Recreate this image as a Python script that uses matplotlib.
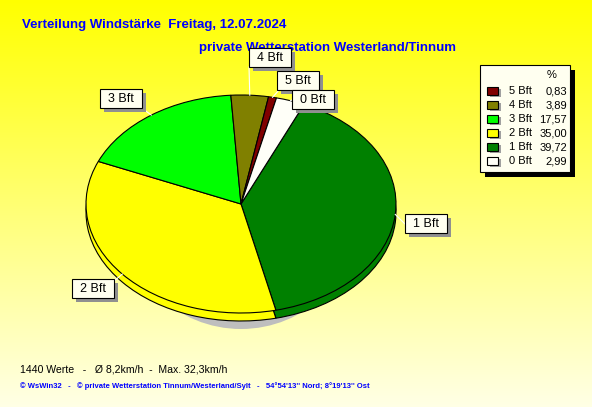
import numpy as np
import matplotlib.pyplot as plt
from matplotlib.patches import Rectangle, Ellipse

# data (clockwise order starting from the white/green boundary)
labels = ['1 Bft', '2 Bft', '3 Bft', '4 Bft', '5 Bft', '0 Bft']
values = [39.72, 35.00, 17.57, 3.89, 0.83, 2.99]
colors = ['#008000', '#FFFF00', '#00FF00', '#808000', '#800000', '#FFFFF8']

legend_labels = ['5 Bft', '4 Bft', '3 Bft', '2 Bft', '1 Bft', '0 Bft']
legend_values = ['0,83', '3,89', '17,57', '35,00', '39,72', '2,99']
legend_colors = ['#800000', '#808000', '#00FF00', '#FFFF00', '#008000', '#FFFFF8']

title = 'Verteilung Windstärke  Freitag, 12.07.2024'
subtitle = 'private Wetterstation Westerland/Tinnum'
info = '1440 Werte   -   Ø 8,2km/h  -  Max. 32,3km/h'
footer = "© WsWin32   -   © private Wetterstation Tinnum/Westerland/Sylt   -   54°54'13'' Nord; 8°19'13'' Ost"

# label box positions (pixel, top-left) for each wedge
box_pos = {'1 Bft': (405, 214), '2 Bft': (72, 279), '3 Bft': (100, 89),
           '4 Bft': (249, 48), '5 Bft': (277, 71), '0 Bft': (292, 90)}
box_anchor = {'1 Bft': (405, 224), '2 Bft': (113, 282), '3 Bft': (142, 108),
              '4 Bft': (249, 67), '5 Bft': (280, 89), '0 Bft': (292, 100)}

W, H = 592, 407
cx, cy, rx, ry = 241, 204, 155, 109
thick = 8
start = 66

plt.rcParams['font.family'] = ['Liberation Sans', 'DejaVu Sans']
fig = plt.figure(figsize=(W / 100, H / 100), dpi=100)

ax = fig.add_axes([0, 0, 1, 1])
xlim = (-cx / rx, (W - cx) / rx)
ylim = (-(H - cy) / ry, cy / ry)

# background gradient
grad = np.linspace(0, 1, 256)[:, None]
top = np.array([1.0, 1.0, 0.0])
bot = np.array([1.0, 1.0, 0.90])
img = top[None, None, :] * (1 - grad[:, :, None]) + bot[None, None, :] * grad[:, :, None]
ax.imshow(img, extent=[xlim[0], xlim[1], ylim[0], ylim[1]], aspect='auto', zorder=0)

# shadow under the pie
ax.add_patch(Ellipse((0, -8 / ry), 2 * 118 / rx, 2 * 117 / ry, fc='#BEBEBE', ec='none', zorder=0.5))

# pie side (thickness) then top
ax.pie(values, colors=colors, startangle=start, counterclock=False, center=(0, -thick / ry),
       wedgeprops=dict(edgecolor='black', linewidth=0.8))
wedges, _ = ax.pie(values, colors=colors, startangle=start, counterclock=False,
                   wedgeprops=dict(edgecolor='black', linewidth=0.8))
ax.set_xlim(*xlim)
ax.set_ylim(*ylim)
ax.set_aspect('auto')
ax.axis('off')

# overlay in pixel coords
ov = fig.add_axes([0, 0, 1, 1])
ov.set_xlim(0, W)
ov.set_ylim(H, 0)
ov.axis('off')
ov.patch.set_alpha(0)

ov.text(22, 25, title, color='#0000FF', fontsize=9.5, fontweight='bold', va='center', ha='left')
ov.text(199, 48, subtitle, color='#0000FF', fontsize=9.5, fontweight='bold', va='center', ha='left')

# leader lines + label boxes
for w, lab in zip(wedges, labels):
    mid = np.deg2rad((w.theta1 + w.theta2) / 2)
    ex = cx + rx * np.cos(mid)
    ey = cy - ry * np.sin(mid)
    axx, ayy = box_anchor[lab]
    ov.plot([ex, axx], [ey, ayy], color='white', lw=0.8, zorder=3)
    bx, by = box_pos[lab]
    ov.add_patch(Rectangle((bx + 4, by + 4), 42, 19, fc='#909090', ec='none', zorder=4))
    ov.add_patch(Rectangle((bx, by), 42, 19, fc='#FFFFF0', ec='black', lw=0.8, zorder=5))
    ov.text(bx + 21, by + 10, lab, fontsize=9, ha='center', va='center', zorder=6)

# legend
lx, ly, lw_, lh = 480, 65, 90, 107
ov.add_patch(Rectangle((lx + 5, ly + 5), lw_, lh, fc='black', ec='none', zorder=4))
ov.add_patch(Rectangle((lx, ly), lw_, lh, fc='#FFFFF0', ec='black', lw=0.8, zorder=5))
ov.text(552, 75, '%', fontsize=8, ha='center', va='center', zorder=6)
for i, (lab, val, col) in enumerate(zip(legend_labels, legend_values, legend_colors)):
    y = 91 + i * 14
    ov.add_patch(Rectangle((490, y - 2), 11, 8, fc='#A0A0A0', ec='none', zorder=5.5))
    ov.add_patch(Rectangle((487, y - 4), 11, 8, fc=col, ec='black', lw=0.8, zorder=6))
    ov.text(509, y, lab, fontsize=8, ha='left', va='center', zorder=6)
    ov.text(567, y, val, fontsize=8, ha='right', va='center', zorder=6)

ov.text(20, 369, info, fontsize=7.6, ha='left', va='center')
ov.text(20, 386, footer, fontsize=5.5, color='#0000FF', fontweight='bold', ha='left', va='center')

fig.savefig('out.png', dpi=100)
